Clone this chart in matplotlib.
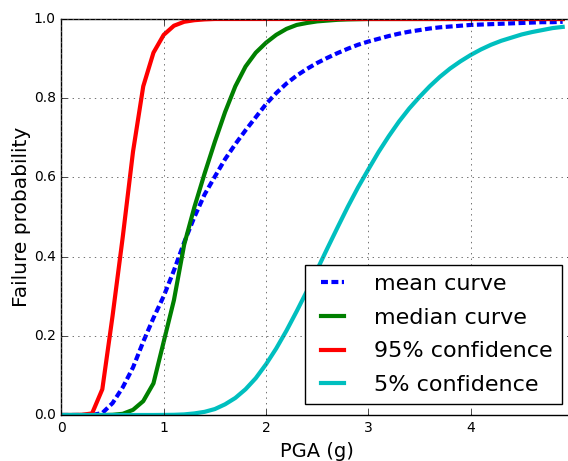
import matplotlib
matplotlib.use("Agg")
import matplotlib.pyplot as plt
import numpy as np

plt.style.use("classic")

# PGA grid (g), 0.1 g steps
pga = np.round(np.arange(0.0, 5.0, 0.1), 1)

mean_curve = [
    0.0, 0.0, 0.0, 0.0, 0.005, 0.03, 0.07, 0.12, 0.185, 0.245,
    0.30, 0.365, 0.436, 0.50, 0.557, 0.602, 0.646, 0.684, 0.719, 0.752,
    0.785, 0.813, 0.837, 0.857, 0.874, 0.889, 0.902, 0.914, 0.925, 0.935,
    0.943, 0.950, 0.957, 0.963, 0.968, 0.972, 0.976, 0.979, 0.981, 0.983,
    0.985, 0.986, 0.987, 0.988, 0.989, 0.990, 0.991, 0.992, 0.992, 0.993,
]
median_curve = [
    0.0, 0.0, 0.0, 0.0, 0.0, 0.0005, 0.003, 0.013, 0.035, 0.08,
    0.185, 0.29, 0.43, 0.525, 0.61, 0.69, 0.765, 0.83, 0.88, 0.915,
    0.94, 0.96, 0.975, 0.985, 0.99, 0.994, 0.996, 0.998, 0.999, 0.9995,
    1.0, 1.0, 1.0, 1.0, 1.0, 1.0, 1.0, 1.0, 1.0, 1.0,
    1.0, 1.0, 1.0, 1.0, 1.0, 1.0, 1.0, 1.0, 1.0, 1.0,
]
conf95 = [
    0.0, 0.0, 0.0005, 0.004, 0.065, 0.25, 0.45, 0.665, 0.83, 0.915,
    0.96, 0.983, 0.993, 0.997, 0.999, 1.0, 1.0, 1.0, 1.0, 1.0,
    1.0, 1.0, 1.0, 1.0, 1.0, 1.0, 1.0, 1.0, 1.0, 1.0,
    1.0, 1.0, 1.0, 1.0, 1.0, 1.0, 1.0, 1.0, 1.0, 1.0,
    1.0, 1.0, 1.0, 1.0, 1.0, 1.0, 1.0, 1.0, 1.0, 1.0,
]
conf05 = [
    0.0, 0.0, 0.0, 0.0, 0.0, 0.0, 0.0, 0.0, 0.0, 0.0,
    0.0002, 0.0005, 0.0015, 0.004, 0.008, 0.015, 0.027, 0.043, 0.065, 0.093,
    0.128, 0.168, 0.213, 0.262, 0.313, 0.367, 0.421, 0.474, 0.526, 0.575,
    0.62, 0.664, 0.704, 0.741, 0.774, 0.803, 0.830, 0.854, 0.875, 0.893,
    0.909, 0.923, 0.935, 0.945, 0.953, 0.961, 0.967, 0.972, 0.977, 0.980,
]

series = [
    ("mean curve", mean_curve, "b", (0, (5, 2.5))),
    ("median curve", median_curve, "g", "-"),
    ("95% confidence", conf95, "r", "-"),
    ("5% confidence", conf05, "c", "-"),
]

W, H = 568, 461
fig = plt.figure(figsize=(W / 100, H / 100), dpi=100, facecolor="white")
ax = fig.add_axes([61.4 / W, 46 / H, 5 * 102.3 / W, 396 / H])

for label, vals, color, ls in series:
    ax.plot(pga, vals, color=color, linestyle=ls, linewidth=3, label=label)

ax.set_xlim(0, 5)
ax.set_ylim(0, 1)
ax.set_xticks([0, 1, 2, 3, 4])
ax.set_yticks(np.arange(0, 1.01, 0.2))
ax.set_yticklabels([f"{v:.1f}" for v in np.arange(0, 1.01, 0.2)])
ax.tick_params(labelsize=10)
ax.grid(True, color="0.35", linestyle=":", linewidth=0.6)
ax.set_xlabel("PGA (g)", fontsize=14)
ax.set_ylabel("Failure probability", fontsize=14.5, labelpad=2)

ax.legend(loc="lower right", bbox_to_anchor=(561.7 / W, (H - 404) / H),
          bbox_transform=fig.transFigure, borderaxespad=0, fontsize=16,
          handlelength=1.65, handletextpad=1.05, labelspacing=0.62,
          borderpad=0.4)

fig.savefig("out.png", dpi=100, facecolor="white")
